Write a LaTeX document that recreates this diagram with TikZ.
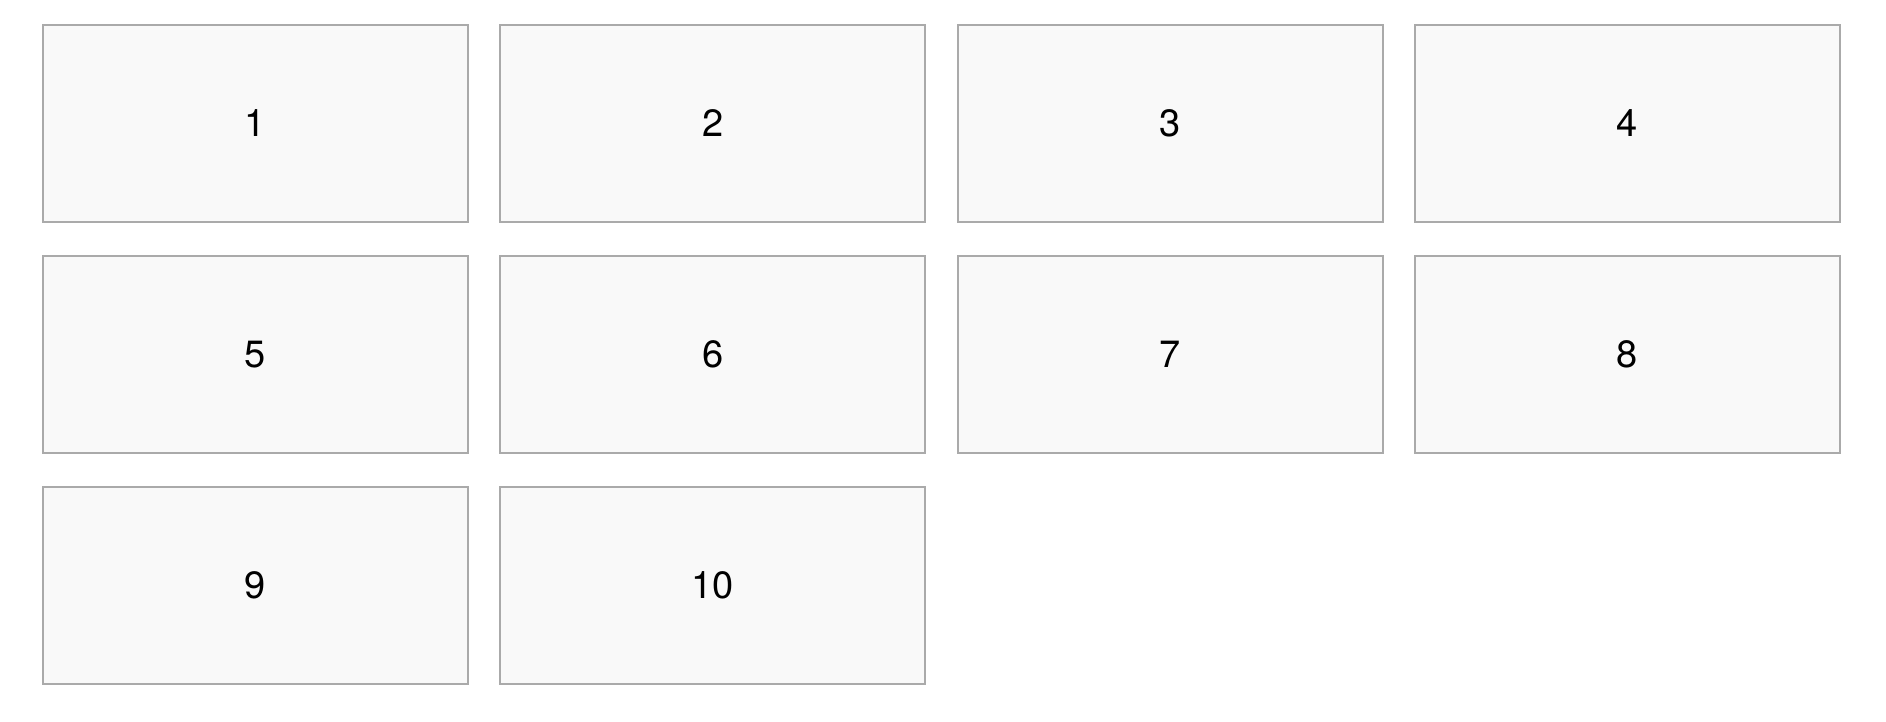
\documentclass[tikz,border=0pt]{standalone}
\usepackage{fontspec}
\setmainfont{TeX Gyre Heros}
\definecolor{cellfill}{HTML}{F9F9F9}
\definecolor{celledge}{HTML}{AAAAAA}
\tikzset{cell/.style={draw=celledge,fill=cellfill,line width=1pt,
    minimum width=212.5pt,minimum height=98.5pt,inner sep=0pt,
    font=\fontsize{19}{22}\selectfont}}

\begin{document}
\begin{tikzpicture}[x=0.5pt,y=-0.5pt]
	\useasboundingbox (0,0) rectangle (1886,722);
	% grid of cells, four per row
	\foreach \n [evaluate=\n as \col using {int(mod(\n-1,4))},
	             evaluate=\n as \row using {int(div(\n-1,4))}] in {1,...,10}
		\node[cell] (cell\n) at ({255.5+457.3*\col},{123.5+231*\row}) {\n};
\end{tikzpicture}
\end{document}
